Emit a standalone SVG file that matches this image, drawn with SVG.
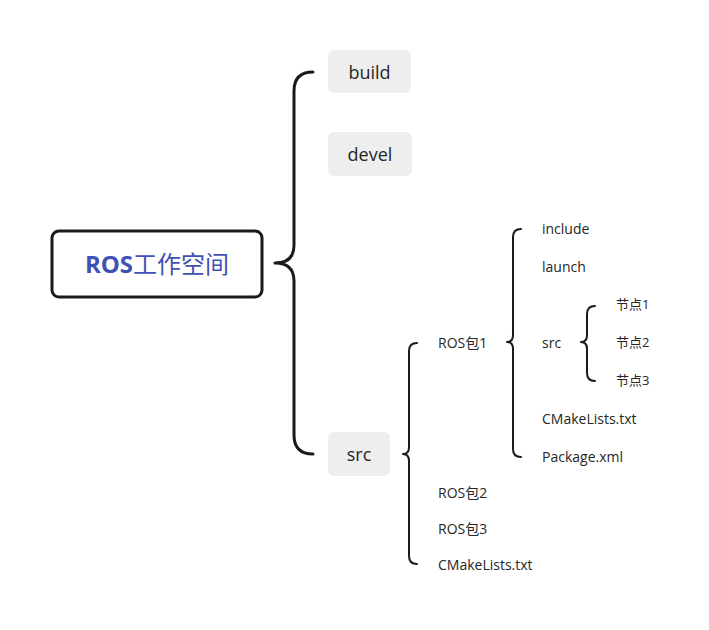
<svg xmlns="http://www.w3.org/2000/svg" width="709" height="630" viewBox="0 0 709 630">
<style>
text{font-family:"Open Sans","Noto Sans CJK SC",sans-serif;fill:#262626;dominant-baseline:central}
.box{fill:#eeeeee}
.t1{font-size:18px;text-anchor:middle}
.t2{font-size:14px}
.t3{font-size:13px}
.br{fill:none;stroke:#1a1a1a;stroke-linecap:round;stroke-linejoin:round}
</style>
<rect width="709" height="630" fill="#ffffff"/>
<g id="connectors">
<path class="br" stroke-width="3" d="M313,72 Q294,72 294,91 L294,245 Q294,263 275,263 Q294,263 294,281 L294,435 Q294,454 313,454"/>
<path class="br" stroke-width="2" d="M417,343 Q409,343 409,351 L409,447 Q409,454 403,454 Q409,454 409,461 L409,556 Q409,564 417,564"/>
<path class="br" stroke-width="2" d="M521,229 Q513,229 513,237 L513,335 Q513,342 507,342 Q513,342 513,349 L513,449 Q513,457 521,457"/>
<path class="br" stroke-width="2" d="M595,306 Q587,306 587,314 L587,335 Q587,342 581,342 Q587,342 587,349 L587,373 Q587,381 595,381"/>
</g>
<g id="root">
<rect x="52" y="231" width="210" height="66" rx="7" fill="#ffffff" stroke="#1a1a1a" stroke-width="3"/>
<text x="157" y="263" style="font-size:24px;fill:#3f51b5;text-anchor:middle"><tspan font-weight="bold">ROS</tspan>工作空间</text>
</g>
<g id="build"><rect class="box" x="328" y="50" width="83" height="43" rx="6"/><text class="t1" x="369.5" y="71.5">build</text></g>
<g id="devel"><rect class="box" x="328" y="132" width="84" height="44" rx="6"/><text class="t1" x="370" y="154">devel</text></g>
<g id="src"><rect class="box" x="328" y="432" width="62" height="44" rx="6"/><text class="t1" x="359" y="454">src</text></g>
<g id="pkg1"><text class="t2" x="438" y="342">ROS包1</text></g>
<g id="pkg2"><text class="t2" x="438" y="492">ROS包2</text></g>
<g id="pkg3"><text class="t2" x="438" y="528">ROS包3</text></g>
<g id="cmake1"><text class="t2" x="438" y="564">CMakeLists.txt</text></g>
<g id="include"><text class="t2" x="542" y="228">include</text></g>
<g id="launch"><text class="t2" x="542" y="266">launch</text></g>
<g id="src2"><text class="t2" x="542" y="342">src</text></g>
<g id="cmake2"><text class="t2" x="542" y="418">CMakeLists.txt</text></g>
<g id="package"><text class="t2" x="542" y="456">Package.xml</text></g>
<g id="node1"><text class="t3" x="616" y="304">节点1</text></g>
<g id="node2"><text class="t3" x="616" y="342">节点2</text></g>
<g id="node3"><text class="t3" x="616" y="380">节点3</text></g>
</svg>
